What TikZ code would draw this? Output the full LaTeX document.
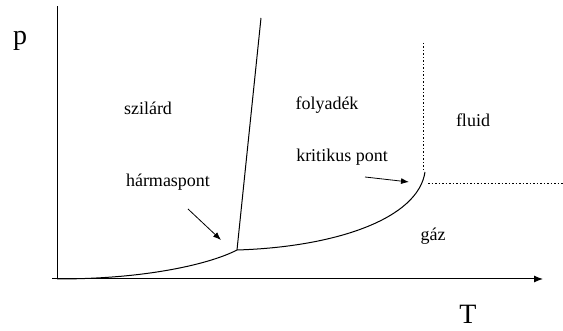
\documentclass[tikz,border=0pt]{standalone}
\usepackage{fontspec}
\setmainfont{Liberation Serif}
\usetikzlibrary{positioning,arrows.meta}
\newcommand{\labelsize}{\fontsize{18}{20}\selectfont}
\newcommand{\axissize}{\fontsize{28}{30}\selectfont}

\begin{document}
\begin{tikzpicture}[x=1pt, y=1pt, line width=1pt,
    phase/.style={anchor=base, font=\labelsize},
    axislabel/.style={anchor=base, font=\axissize},
    pointer/.style={-{Latex[length=8pt,width=6pt]}, line width=0.8pt},
    border/.style={dash pattern=on 1.5pt off 2pt, line width=0.8pt}]
    \useasboundingbox (0,0) rectangle (563,331);

    % tengelyek
    \coordinate (O) at (57,52);
    \coordinate (Ptop) at (57,325);
    \coordinate (Tstart) at (52,52);
    \coordinate (Tend) at (543,52);
    \draw (O) -- (Ptop);
    \draw[-{Latex[length=9pt,width=7pt]}] (Tstart) -- (Tend);
    \node[axislabel] (p) at (20,286) {p};
    \node[axislabel] (T) at (468,7) {T};

    % pontok
    \coordinate (TP) at (237,81);
    \coordinate (CP) at (425,159);
    \coordinate (M) at (261,313);

    % fazishatarok
    \draw (O) .. controls (150,52) and (212,68) .. (TP);
    \draw (TP) -- (M);
    \draw (TP) .. controls (335,84) and (418,112) .. (CP);
    \draw[border] (423,288) -- (423,159);
    \draw[border] (428,148) -- (563,148);

    \node[phase] (solid) at (148,216) {szilárd};
    \node[phase] (liquid) at (327,221) {folyadék};
    \node[phase] (fluid) at (473,204) {fluid};
    \node[phase] (gas) at (433,90) {gáz};
    \node[phase] (triple) at (168,144) {hármaspont};
    \node[phase] (critical) at (342,169) {kritikus pont};

    \coordinate (triplefrom) at (188,122);
    \coordinate (tripleto) at (221,91);
    \coordinate (criticalfrom) at (365,154);
    \coordinate (criticalto) at (409,149);
    \draw[pointer] (triplefrom) -- (tripleto);
    \draw[pointer] (criticalfrom) -- (criticalto);
\end{tikzpicture}
\end{document}
